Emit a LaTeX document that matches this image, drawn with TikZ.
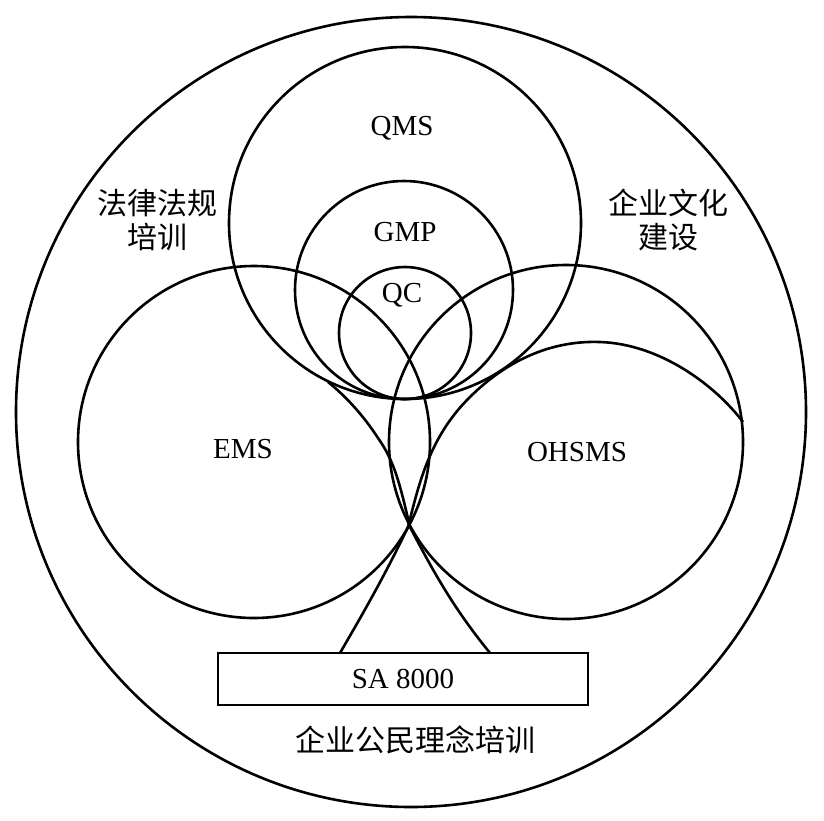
\documentclass[tikz,border=0pt]{standalone}
\usepackage{fontspec}
\setmainfont{Liberation Serif}
\newfontfamily\cjk{Noto Sans CJK SC}
\begin{document}
\begin{tikzpicture}[x=1pt,y=-1pt,
  ln/.style={line width=2.6pt},
  lab/.style={font=\fontsize{29}{30}\selectfont},
  cjklab/.style={font=\cjk\fontsize{30}{34}\selectfont, align=center}]
\useasboundingbox (0,0) rectangle (824,820);
% circles
\draw[ln] (411,412) circle (395);
\draw[ln] (405,223) circle (176);
\draw[ln] (404,290) circle (109);
\draw[ln] (405,333) circle (66);
\draw[ln] (254,442) circle (176);
\draw[ln] (566,442) circle (177);
% trunk curves
\draw[ln] (340,653) .. controls (365,610) and (385,575) .. (408,527)
  .. controls (418,488) and (428,440) .. (467,400)
  .. controls (500,366) and (545,340) .. (600,342)
  .. controls (660,344) and (715,385) .. (743,422);
\draw[ln] (490,653) .. controls (455,610) and (435,575) .. (410,527)
  .. controls (400,485) and (395,462) .. (378,438)
  .. controls (365,418) and (348,398) .. (328,382);
% box
\node[draw, line width=1.2pt, minimum width=370pt, minimum height=52pt, inner sep=0pt, fill=white, lab] (sa) at (403,679) {SA 8000};
% labels
\node[lab] (qms) at (402,128) {QMS};
\node[lab] (gmp) at (405,232) {GMP};
\node[lab] (qc) at (402,295) {QC};
\node[lab] (ems) at (243,449) {EMS};
\node[lab] (ohsms) at (577,452) {OHSMS};
\node[cjklab] (law) at (157,220) {法律法规\\培训};
\node[cjklab] (cult) at (668,220) {企业文化\\建设};
\node[cjklab] (citizen) at (415,740) {企业公民理念培训};
\end{tikzpicture}
\end{document}
